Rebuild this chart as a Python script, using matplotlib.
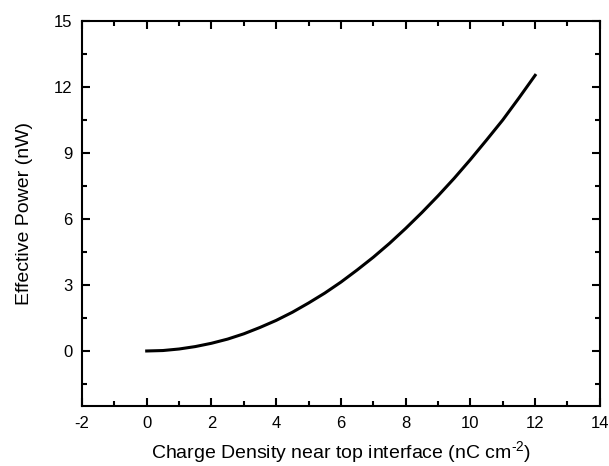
import matplotlib
matplotlib.use("Agg")
import matplotlib.pyplot as plt
from matplotlib.ticker import MultipleLocator

plt.rcParams['font.family'] = ['Liberation Sans', 'DejaVu Sans']
plt.rcParams['axes.unicode_minus'] = False
plt.rcParams['mathtext.fontset'] = 'custom'
plt.rcParams['mathtext.rm'] = 'Liberation Sans'
plt.rcParams['mathtext.it'] = 'Liberation Sans:italic'
plt.rcParams['mathtext.bf'] = 'Liberation Sans:bold'

charge_density = [0, 0.5, 1, 1.5, 2, 2.5, 3, 3.5, 4, 4.5, 5, 5.5, 6, 6.5,
                  7, 7.5, 8, 8.5, 9, 9.5, 10, 10.5, 11, 11.5, 12]
effective_power = [0, 0.02, 0.09, 0.2, 0.35, 0.54, 0.78, 1.07, 1.39, 1.76,
                   2.18, 2.63, 3.13, 3.68, 4.26, 4.89, 5.57, 6.29, 7.05,
                   7.85, 8.70, 9.59, 10.5, 11.5, 12.53]

fig = plt.figure(figsize=(6.09, 4.66), dpi=100)
ax = fig.add_axes([0.1346, 0.1288, 0.8504, 0.8262])
ax.plot(charge_density, effective_power, color='black', lw=2.2,
        solid_joinstyle='round')

ax.set_xlim(-2, 14)
ax.set_ylim(-2.5, 15)
ax.xaxis.set_major_locator(MultipleLocator(2))
ax.xaxis.set_minor_locator(MultipleLocator(1))
ax.yaxis.set_major_locator(MultipleLocator(3))
ax.yaxis.set_minor_locator(MultipleLocator(1.5))

for s in ax.spines.values():
    s.set_linewidth(1.5)
ax.tick_params(which='both', direction='in', top=True, right=True,
               labeltop=False, labelright=False, width=1.5, labelsize=12)
ax.tick_params(which='major', length=6, pad=7)
ax.tick_params(which='minor', length=3.5)

ax.set_xlabel(r'Charge Density near top interface (nC cm$^{\text{-2}}$)', fontsize=14, labelpad=6)
ax.set_ylabel('Effective Power (nW)', fontsize=14, labelpad=15)

fig.savefig('out.png', dpi=100)
